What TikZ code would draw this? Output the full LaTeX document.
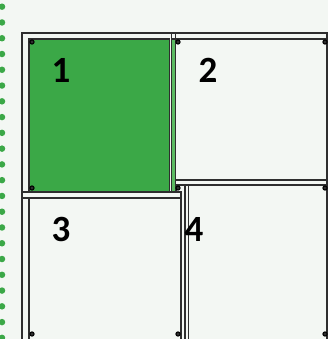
\documentclass[tikz,border=0pt]{standalone}
\usepackage{fontspec}
\setmainfont{Carlito}
\definecolor{bg}{HTML}{F3F7F3}
\definecolor{grn}{HTML}{3BA847}
\definecolor{grnlt}{HTML}{5CBB62}
\definecolor{ln}{HTML}{2E2E2E}
\begin{document}
\begin{tikzpicture}[x=1pt,y=-1pt,
  frame/.style={draw=ln,line width=1.6pt},
  thin/.style={draw=ln,line width=1.3pt},
  cdot/.style={circle,draw=black,fill=ln,line width=1pt,inner sep=0pt,minimum size=4.2pt},
  num/.style={font=\fontsize{37}{37}\selectfont\bfseries,text=black,inner sep=0pt},
  gdot/.style={circle,fill=grn,inner sep=0pt,minimum size=6.5pt}]
\useasboundingbox (0,0) rectangle (328,339);
\fill[bg] (0,0) rectangle (328,339);
% left dotted edge
\foreach \i in {0,...,21} {\node[gdot] (g\i) at (2,6.7+15.77*\i) {};}
% panel 3
\path[frame,fill=bg] (22,192) rectangle (181,341);
\draw[thin] (22,198) -- (181,198);
\draw[thin] (29,198) -- (29,341);
% panel 4
\path[frame,fill=bg] (185,185) rectangle (327,341);
\draw[thin] (188.5,185) -- (188.5,341);
% panel 1
\path[frame,fill=bg] (22,33) rectangle (176,192);
\path[frame,fill=grn] (29,39) rectangle (169.5,192);
\path[thin,fill=grnlt] (171.5,39) rectangle (175.5,192);
% panel 2
\path[frame,fill=bg] (175.5,33) rectangle (327,185);
\draw[thin] (175.5,39) -- (327,39);
\draw[thin] (175.5,180) -- (327,180);
\draw[thin] (171.5,33) -- (171.5,39);
% corner dots
\node[cdot] (c1) at (32,42) {};
\node[cdot] (c2) at (32,188) {};
\node[cdot] (c3) at (178,42) {};
\node[cdot] (c4) at (325,42) {};
\node[cdot] (c5) at (178,188) {};
\node[cdot] (c6) at (325,188) {};
\node[cdot] (c7) at (32,334) {};
\node[cdot] (c8) at (178,334) {};
\node[cdot] (c9) at (325,334) {};
% numbers
\node[num] (n1) at (61,70) {1};
\node[num] (n2) at (208,70) {2};
\node[num] (n3) at (61,229) {3};
\node[num] (n4) at (194,229) {4};
\end{tikzpicture}
\end{document}
